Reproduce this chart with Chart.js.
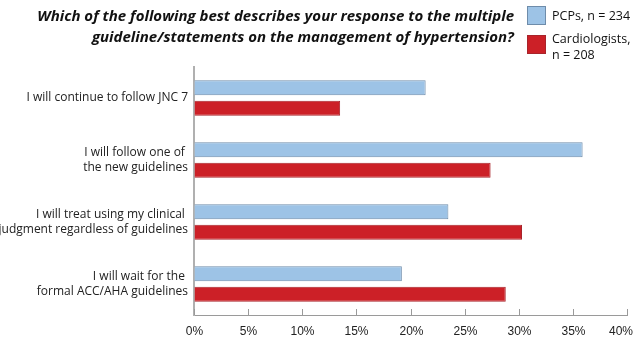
<!DOCTYPE html>
<html><head><meta charset="utf-8">
<script src="https://cdn.jsdelivr.net/npm/chart.js@4/dist/chart.umd.min.js"></script>
<style>html,body{margin:0;padding:0;background:#fff}#wrap{width:637px;height:354px;position:relative}</style>
</head><body><div id="wrap"><canvas id="c" width="637" height="354"></canvas></div>
<script>
const categories = [
  ["I will continue to follow JNC 7"],
  ["I will follow one of ", "the new guidelines"],
  ["I will treat using my clinical ", "judgment regardless of guidelines"],
  ["I will wait for the ", "formal ACC/AHA guidelines"]
];
const seriesNames = ["PCPs, n = 234", "Cardiologists, n = 208"];
const pcpValues = [21.4, 35.9, 23.5, 19.2];
const cardioValues = [13.5, 27.4, 30.3, 28.8];
const titleLines = ["Which of the following best describes your response to the multiple", "guideline/statements on the management of hypertension?"];
const legendLines = [["PCPs, n = 234"], ["Cardiologists,", "n = 208"]];

const labelFont = '"Open Sans", sans-serif';

const overlay = {
  id: 'overlay',
  afterDraw(chart) {
    const ctx = chart.ctx;
    const xs = chart.scales.x;
    ctx.save();
    ctx.strokeStyle = '#9a9a9a';
    ctx.lineWidth = 1;
    ctx.font = '12px Arial, "Liberation Sans", sans-serif';
    ctx.textBaseline = 'middle';
    xs.ticks.forEach(t => {
      const px = Math.round(xs.getPixelForValue(t.value)) + 0.5;
      ctx.beginPath();
      ctx.moveTo(px, xs.top);
      ctx.lineTo(px, xs.top - 6);
      ctx.stroke();
      const txt = t.value + '%';
      const w = ctx.measureText(txt).width;
      let cx = px;
      if (cx + w / 2 > chart.width - 4) cx = chart.width - 4 - w / 2;
      ctx.fillStyle = '#222';
      ctx.textAlign = 'center';
      ctx.fillText(txt, cx, xs.top + 17);
    });
    ctx.fillStyle = '#111';
    ctx.font = 'italic bold 15px "Open Sans", sans-serif';
    ctx.textAlign = 'right';
    ctx.fillText(titleLines[0], 514, 17);
    ctx.fillText(titleLines[1], 514, 38);
    const ds = chart.data.datasets;
    const boxes = [6, 35];
    const textY = [[16], [39, 55]];
    ds.forEach((d, i) => {
      ctx.fillStyle = d.backgroundColor;
      ctx.fillRect(527, boxes[i], 18, 18);
      ctx.strokeStyle = d.borderColor;
      ctx.lineWidth = 1;
      ctx.strokeRect(527.5, boxes[i] + 0.5, 18, 18);
      ctx.fillStyle = '#111';
      ctx.font = '12.5px ' + labelFont;
      ctx.textAlign = 'left';
      legendLines[i].forEach((ln, j) => ctx.fillText(ln, 552, textY[i][j]));
    });
    ctx.restore();
  }
};

new Chart(document.getElementById('c'), {
  type: 'bar',
  data: {
    labels: categories,
    datasets: [
      { label: seriesNames[0], data: pcpValues, backgroundColor: '#9DC3E6', borderColor: '#6E8CAA', borderWidth: 1 },
      { label: seriesNames[1], data: cardioValues, backgroundColor: '#CC2027', borderColor: '#A8242B', borderWidth: 1 }
    ]
  },
  options: {
    indexAxis: 'y',
    responsive: false,
    animation: false,
    devicePixelRatio: 1,
    categoryPercentage: 0.66,
    barPercentage: 0.74,
    layout: { padding: { top: 67, right: 0, left: 0, bottom: 0 } },
    plugins: { legend: { display: false }, title: { display: false }, tooltip: { enabled: false } },
    scales: {
      x: {
        min: 0, max: 40,
        ticks: { stepSize: 5, display: false },
        grid: { display: true, drawOnChartArea: false, drawTicks: false },
        border: { color: '#9a9a9a', width: 1 },
        afterFit(s) { s.height = 39; s.paddingRight = 10; s.paddingLeft = 0; }
      },
      y: {
        ticks: { color: '#222', font: { family: labelFont, size: 12 }, padding: 6, lineHeight: 1.45 },
        grid: { display: false, drawTicks: false },
        border: { color: '#b0b0b0', width: 2 },
        afterFit(s) { s.width = 194; }
      }
    }
  },
  plugins: [overlay]
});
</script></body></html>
